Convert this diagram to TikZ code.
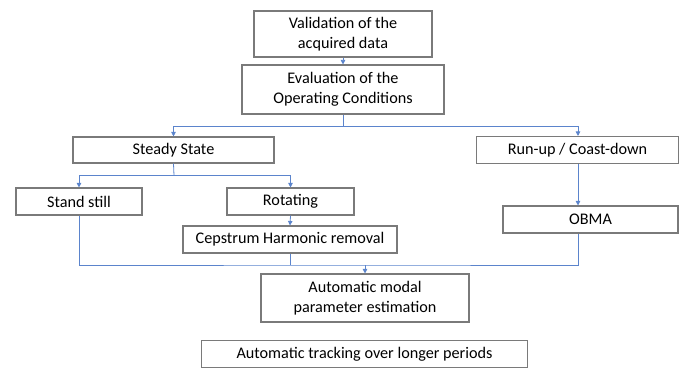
\documentclass[tikz,border=0pt]{standalone}
\usepackage{fontspec}
\setmainfont{Carlito}
\usetikzlibrary{arrows.meta}
\definecolor{lineblue}{HTML}{5B84CC}
\definecolor{boxgray}{HTML}{7A7A7A}
\tikzset{
  box/.style={draw=boxgray, line width=1.1pt, inner sep=0pt, align=center,
    font=\fontsize{16.2}{19.5}\selectfont, text=black},
  ln/.style={draw=lineblue, line width=0.8pt},
  arr/.style={ln, -{Triangle[length=4.5pt,width=4.5pt]}}
}
\begin{document}
\begin{tikzpicture}[x=1pt,y=-1pt]
\useasboundingbox (0,0) rectangle (680,369);
\node[box, minimum width=178pt, minimum height=46pt] (val) at (343,34) {Validation of the\\acquired data};
\node[box, minimum width=202pt, minimum height=49pt] (eval) at (343,89.5) {Evaluation of the\\Operating Conditions};
\node[box, minimum width=201pt, minimum height=26pt] (ss) at (173.5,150) {Steady State};
\node[box, minimum width=202pt, minimum height=27pt] (ru) at (577.5,150) {Run-up / Coast-down};
\node[box, minimum width=126pt, minimum height=27pt] (sst) at (79,201.5) {Stand still};
\node[box, minimum width=127pt, minimum height=27pt] (rot) at (290.5,201.5) {Rotating};
\node[box, minimum width=214pt, minimum height=27pt] (cep) at (290,239.5) {Cepstrum Harmonic removal};
\node[box, minimum width=175pt, minimum height=27pt] (obma) at (590.5,219.5) {OBMA};
\node[box, minimum width=208pt, minimum height=48pt] (amp) at (365,298) {Automatic modal\\parameter estimation};
\node[box, minimum width=326pt, minimum height=27pt] (trk) at (364.5,354) {Automatic tracking over longer periods};
\coordinate (j1) at (343,126.5);
\coordinate (j2) at (174,175.5);
\coordinate (j3) at (365,265);
\coordinate (rux) at (578,150);
\draw[arr] (val.south) -- (eval.north);
\draw[ln] (eval.south) -- (j1);
\draw[arr] (j1) -| (ss.north);
\draw[arr] (j1) -| (rux |- ru.north);
\draw[ln] (ss.south) -- (j2);
\draw[arr] (j2) -| (sst.north);
\draw[arr] (j2) -| (rot.north);
\draw[arr] (rot.south) -- (cep.north);
\draw[arr] (rux |- ru.south) -- (rux |- obma.north);
\draw[ln] (sst.south) |- (j3) -| (rux |- obma.south);
\draw[ln] (cep.south) -- (cep.south |- j3);
\draw[arr] (j3) -- (amp.north);
\end{tikzpicture}
\end{document}
